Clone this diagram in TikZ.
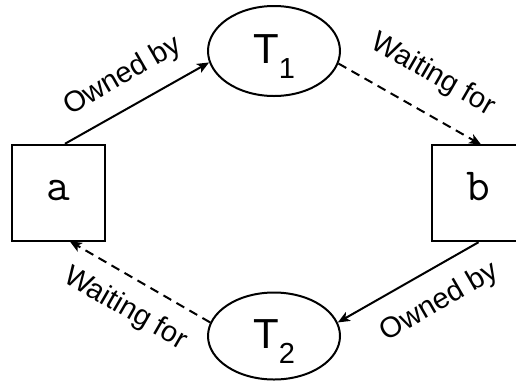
\documentclass[tikz,border=0pt]{standalone}
\usepackage{fontspec}
\setmainfont{Liberation Sans}
\usetikzlibrary{arrows.meta,shapes.geometric,backgrounds}

\tikzset{
  resource/.style={draw, line width=2.5pt, fill=white, minimum width=93pt,
    minimum height=96pt, inner sep=0pt,
    font=\ttfamily\fontsize{46}{46}\selectfont, text height=24pt, text depth=9pt},
  txn/.style={ellipse, draw, line width=2pt, fill=white, minimum width=132pt,
    inner sep=0pt, font=\fontsize{42}{42}\selectfont},
  rel/.style={line width=2pt, -{Stealth[length=12pt,width=10pt,inset=3pt]}},
  waitrel/.style={rel, dash pattern=on 9pt off 6pt},
  edgelabel/.style={font=\fontsize{29}{29}\selectfont, inner sep=0pt},
}

% T with a lowered subscript, centred on the ellipse
\newcommand{\txnname}[1]{\raisebox{-12pt}[0pt][0pt]{T\raisebox{-15pt}{\fontsize{29}{29}\selectfont #1}}}

\begin{document}
\begin{tikzpicture}[x=1pt, y=-1pt]
  \useasboundingbox (0,0) rectangle (516,381);
  \clip (0,0) rectangle (516,381);

  % resources
  \node[resource] (a) at (58.5,193) {a};
  \node[resource] (b) at (478.5,193) {b};

  % transactions
  \node[txn, minimum height=90pt] (T1) at (274,51) {\txnname{1}};
  \node[txn, minimum height=87pt] (T2) at (274,336) {\txnname{2}};

  % ownership and wait-for edges, drawn beneath the shapes
  \begin{scope}[on background layer]
    \draw[rel] ([xshift=6.5pt]a.north) -- (T1.190);
    \draw[waitrel, shorten >=-2pt] (T1.349) -- ([xshift=1pt]b.north);
    \draw[rel] (b.south) -- (T2.12);
    \draw[waitrel, shorten >=-2pt] (T2.168) -- ([xshift=13pt]a.south);
  \end{scope}

  % edge labels
  \node[edgelabel, rotate=30]  (l1) at (123,76.5)  {Owned by};
  \node[edgelabel, rotate=-30] (l2) at (433,75)    {Waiting for};
  \node[edgelabel, rotate=30]  (l3) at (439.5,302.5) {Owned by};
  \node[edgelabel, rotate=-30] (l4) at (125.5,309) {Waiting for};
\end{tikzpicture}
\end{document}
